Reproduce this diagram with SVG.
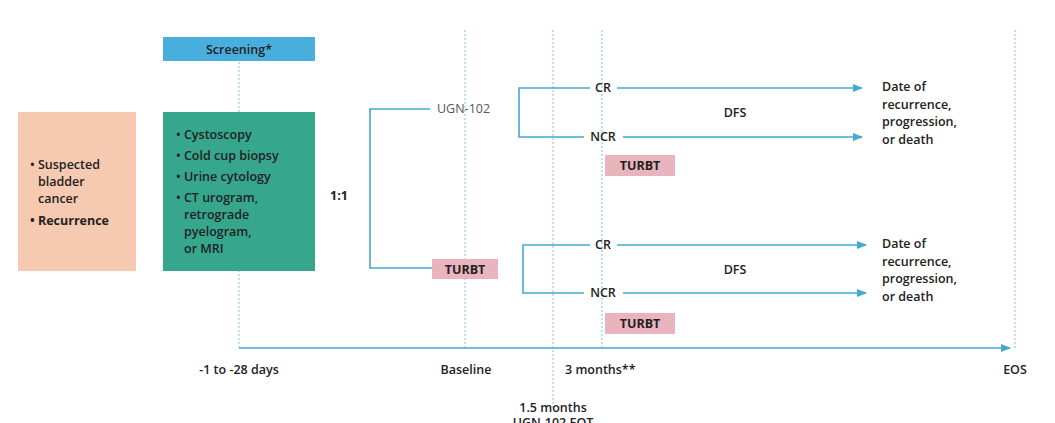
<svg xmlns="http://www.w3.org/2000/svg" width="1055" height="423" viewBox="0 0 1055 423">
<style>
text{font-family:"Open Sans","Noto Sans",sans-serif;font-size:12.5px;fill:#222;font-weight:600}
.b{font-weight:bold}
.dot{stroke:#9fd0e6;stroke-width:1.3;stroke-dasharray:2 2;fill:none}
.ln{stroke:#43a9d3;stroke-width:1.6;fill:none}
.pk{fill:#eab4bf}
</style>
<defs><marker id="ar" markerWidth="10" markerHeight="8" refX="9" refY="4" orient="auto" markerUnits="userSpaceOnUse"><path d="M0,0L10,4L0,8z" fill="#43a9d3"/></marker></defs>
<rect width="1055" height="423" fill="#fff"/>
<g id="grid">
<line class="dot" x1="239" y1="62" x2="239" y2="348"/>
<line class="dot" x1="465" y1="30" x2="465" y2="348"/>
<line class="dot" x1="553" y1="30" x2="553" y2="410"/>
<line class="dot" x1="602" y1="30" x2="602" y2="348"/>
<line class="dot" x1="1015" y1="30" x2="1015" y2="348"/>
</g>
<g id="connectors">
<path class="ln" d="M430,109H370V268H432"/>
<path class="ln" d="M590,88H519V137H584"/>
<line class="ln" x1="617" y1="88" x2="862" y2="88" marker-end="url(#ar)"/>
<line class="ln" x1="623" y1="137" x2="862" y2="137" marker-end="url(#ar)"/>
<path class="ln" d="M590,245H523V293H584"/>
<line class="ln" x1="617" y1="245" x2="866" y2="245" marker-end="url(#ar)"/>
<line class="ln" x1="623" y1="293" x2="866" y2="293" marker-end="url(#ar)"/>
<line class="ln" x1="239" y1="348" x2="1010" y2="348" marker-end="url(#ar)"/>
</g>
<g id="screening"><rect x="163" y="37" width="152" height="24" fill="#48aedd"/><text x="239" y="54" text-anchor="middle">Screening*</text></g>
<g id="patient"><rect x="18" y="112" width="118" height="159" fill="#f6c9b1"/>
<text x="30" y="169">• Suspected</text><text x="38" y="186">bladder</text><text x="38" y="203">cancer</text><text x="30" y="225" class="b">• Recurrence</text></g>
<g id="tests"><rect x="163" y="112" width="152" height="159" fill="#36a68c"/>
<text x="176" y="139">• Cystoscopy</text><text x="176" y="160">• Cold cup biopsy</text><text x="176" y="181">• Urine cytology</text><text x="176" y="202">• CT urogram,</text><text x="184" y="219">retrograde</text><text x="184" y="236">pyelogram,</text><text x="184" y="253">or MRI</text></g>
<g id="ratio"><text x="330" y="200" class="b">1:1</text></g>
<g id="ugn"><text x="437" y="113" font-size="10.5" style="fill:#555;font-weight:400">UGN-102</text></g>
<g id="turbt1"><rect x="432" y="259" width="66" height="20" class="pk"/><text x="465" y="274" text-anchor="middle" class="b">TURBT</text></g>
<g id="cr1"><text x="603" y="92" text-anchor="middle">CR</text></g>
<g id="ncr1"><text x="603" y="141" text-anchor="middle">NCR</text></g>
<g id="turbt2"><rect x="605" y="155" width="70" height="21" class="pk"/><text x="640" y="170" text-anchor="middle" class="b">TURBT</text></g>
<g id="dfs1"><text x="735" y="117" text-anchor="middle">DFS</text></g>
<g id="out1"><text x="882" y="91">Date of</text><text x="882" y="109">recurrence,</text><text x="882" y="126">progression,</text><text x="882" y="144">or death</text></g>
<g id="cr2"><text x="603" y="249" text-anchor="middle">CR</text></g>
<g id="ncr2"><text x="603" y="297" text-anchor="middle">NCR</text></g>
<g id="turbt3"><rect x="605" y="313" width="70" height="21" class="pk"/><text x="640" y="328" text-anchor="middle" class="b">TURBT</text></g>
<g id="dfs2"><text x="735" y="274" text-anchor="middle">DFS</text></g>
<g id="out2"><text x="882" y="248">Date of</text><text x="882" y="266">recurrence,</text><text x="882" y="283">progression,</text><text x="882" y="301">or death</text></g>
<g id="labels">
<text x="239" y="374" text-anchor="middle">-1 to -28 days</text>
<text x="466" y="374" text-anchor="middle">Baseline</text>
<text x="565" y="374">3 months**</text>
<text x="1015" y="374" text-anchor="middle">EOS</text>
<text x="553" y="412" text-anchor="middle">1.5 months</text>
<text x="553" y="427" text-anchor="middle">UGN-102 EOT</text>
</g>
</svg>
